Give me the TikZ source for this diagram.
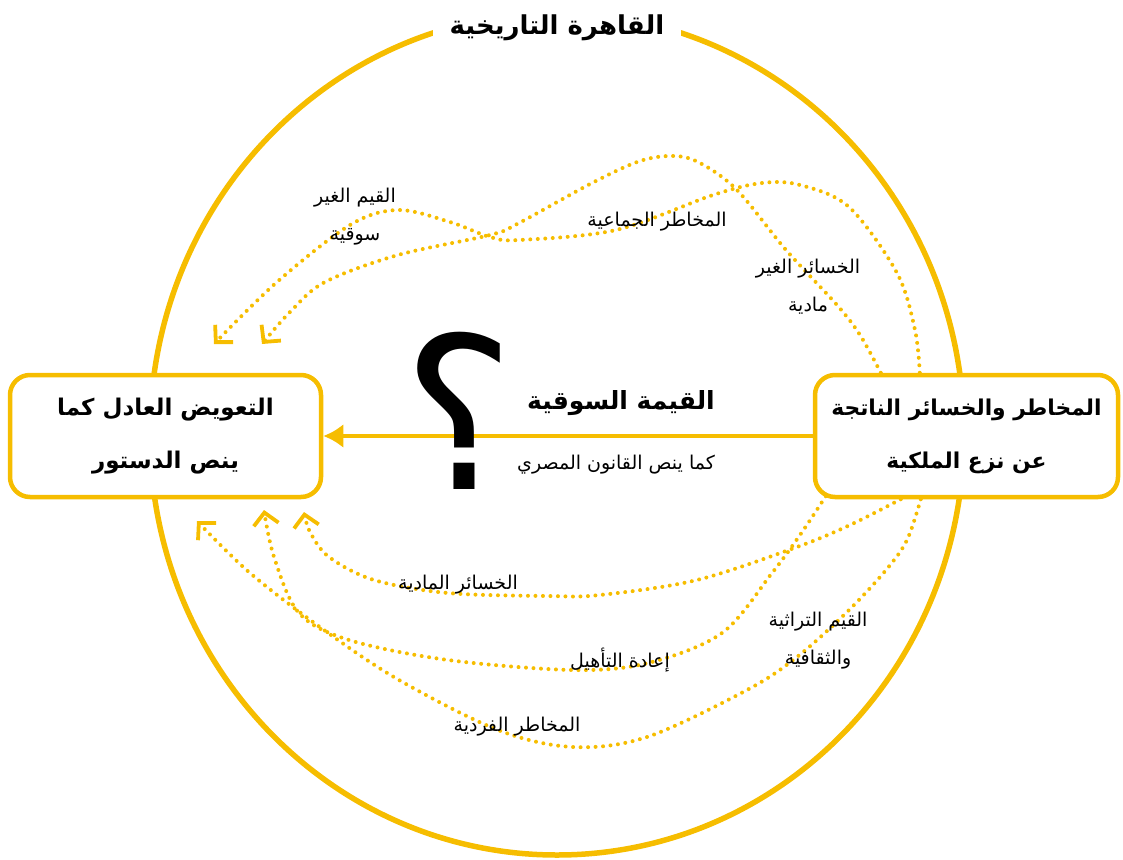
\documentclass[tikz,border=0pt]{standalone}
\usepackage{fontspec}
\usetikzlibrary{arrows.meta,backgrounds}
\TeXXeTstate=1
\newfontfamily\arfont[Script=Arabic]{DejaVu Sans}
\definecolor{gold}{RGB}{246,189,0}
\begin{document}
\begin{tikzpicture}[x=1pt,y=-1pt,
  ring/.style={draw=gold,line width=5.5pt},
  box/.style={draw=gold,line width=4.5pt,rounded corners=20pt,fill=white,align=center,
    font=\arfont\bfseries\fontsize{23}{53}\selectfont,inner sep=0pt},
  dotline/.style={draw=gold,line width=4pt,line cap=round,dash pattern=on 0pt off 7.5pt,
    -{Straight Barb[length=12pt,width=25pt,line width=3.8pt]}},
  lbl/.style={font=\arfont\fontsize{19}{38}\selectfont,align=center,inner sep=0pt,text=black},
  mainarrow/.style={draw=gold,line width=4.5pt,-{Latex[length=20pt,width=24pt]}},
]
\useasboundingbox (0,0) rectangle (1123,859);

% boxes
\node[box,minimum width=311pt,minimum height=122pt] (lbox) at (165.5,436)
  {\beginR التعويض العادل كما\endR\\\beginR ينص الدستور\endR};
\node[box,minimum width=303pt,minimum height=122pt,
  font=\arfont\bfseries\fontsize{21.8}{53}\selectfont] (rbox) at (966.5,436)
  {\beginR المخاطر والخسائر الناتجة\endR\\\beginR عن نزع الملكية\endR};

% start / end points of dotted connectors
\coordinate (s1) at ([xshift=68pt]rbox.north west);
\coordinate (s2) at ([xshift=107pt]rbox.north west);
\coordinate (s3) at ([xshift=88pt]rbox.south west);
\coordinate (s4) at ([xshift=13pt,yshift=3pt]rbox.south west);
\coordinate (s5) at ([xshift=108pt]rbox.south west);
\coordinate (t1) at (262,344);
\coordinate (t2) at (214,344);
\coordinate (t3) at (304,512);
\coordinate (t4) at (264,510);
\coordinate (t5) at (197,521);

\begin{scope}[on background layer]
\draw[ring] (557,434) ellipse [x radius=407pt,y radius=421pt];
% top connectors
\draw[dotline] plot[smooth,tension=0.55] coordinates {(s1) (860,335) (837,305) (786,250) (737,190) (700,163) (674,156) (640,161) (592,183) (519,223) (490,235) (398,255) (325,282) (290,312) (t1)};
\draw[dotline] plot[smooth,tension=0.55] coordinates {(s2) (915,330) (897,273) (849,207) (800,185) (762,183) (713,195) (616,230) (519,240) (490,237) (450,222) (398,210) (350,225) (277,282) (t2)};
% bottom connectors
\draw[dotline] plot[smooth,tension=0.55] coordinates {(s3) (850,525) (797,547) (697,580) (600,595) (548,596) (448,593) (374,580) (329,557) (310,532) (t3)};
\draw[dotline] plot[smooth,tension=0.55] coordinates {(s4) (800,535) (772,573) (722,633) (648,663) (573,670) (448,660) (349,640) (299,613) (274,557) (t4)};
\draw[dotline] plot[smooth,tension=0.55] coordinates {(s5) (907,540) (886,570) (847,612) (797,657) (747,690) (647,737) (573,747) (498,730) (399,680) (324,630) (250,573) (t5)};
\end{scope}

% title
\node[fill=white,minimum width=248pt,minimum height=44pt,inner sep=0pt,
  font=\arfont\bfseries\fontsize{26}{30}\selectfont] (title) at (557,28)
  {\beginR القاهرة التاريخية\endR};

% main arrow
\draw[mainarrow] (rbox.west) -- (lbox.east);
\node[font=\arfont\fontsize{212}{212}\selectfont,inner sep=0pt] (qm) at (459,411) {؟};

\node[font=\arfont\bfseries\fontsize{25}{28}\selectfont,inner sep=0pt] (mv) at (621,403)
  {\beginR القيمة السوقية\endR};
\node[lbl] (law) at (616,465) {\beginR كما ينص القانون المصري\endR};

% connector labels
\node[lbl] (l1) at (355,217) {\beginR القيم الغير\endR\\\beginR سوقية\endR};
\node[lbl] (l2) at (657,222) {\beginR المخاطر الجماعية\endR};
\node[lbl] (l3) at (808,287) {\beginR الخسائر الغير\endR\\\beginR مادية\endR};
\node[lbl] (l4) at (458,585) {\beginR الخسائر المادية\endR};
\node[lbl] (l5) at (818,641) {\beginR القيم التراثية\endR\\\beginR والثقافية\endR};
\node[lbl] (l6) at (620,660) {\beginR إعادة التأهيل\endR};
\node[lbl] (l7) at (517,727) {\beginR المخاطر الفردية\endR};
\end{tikzpicture}
\end{document}
